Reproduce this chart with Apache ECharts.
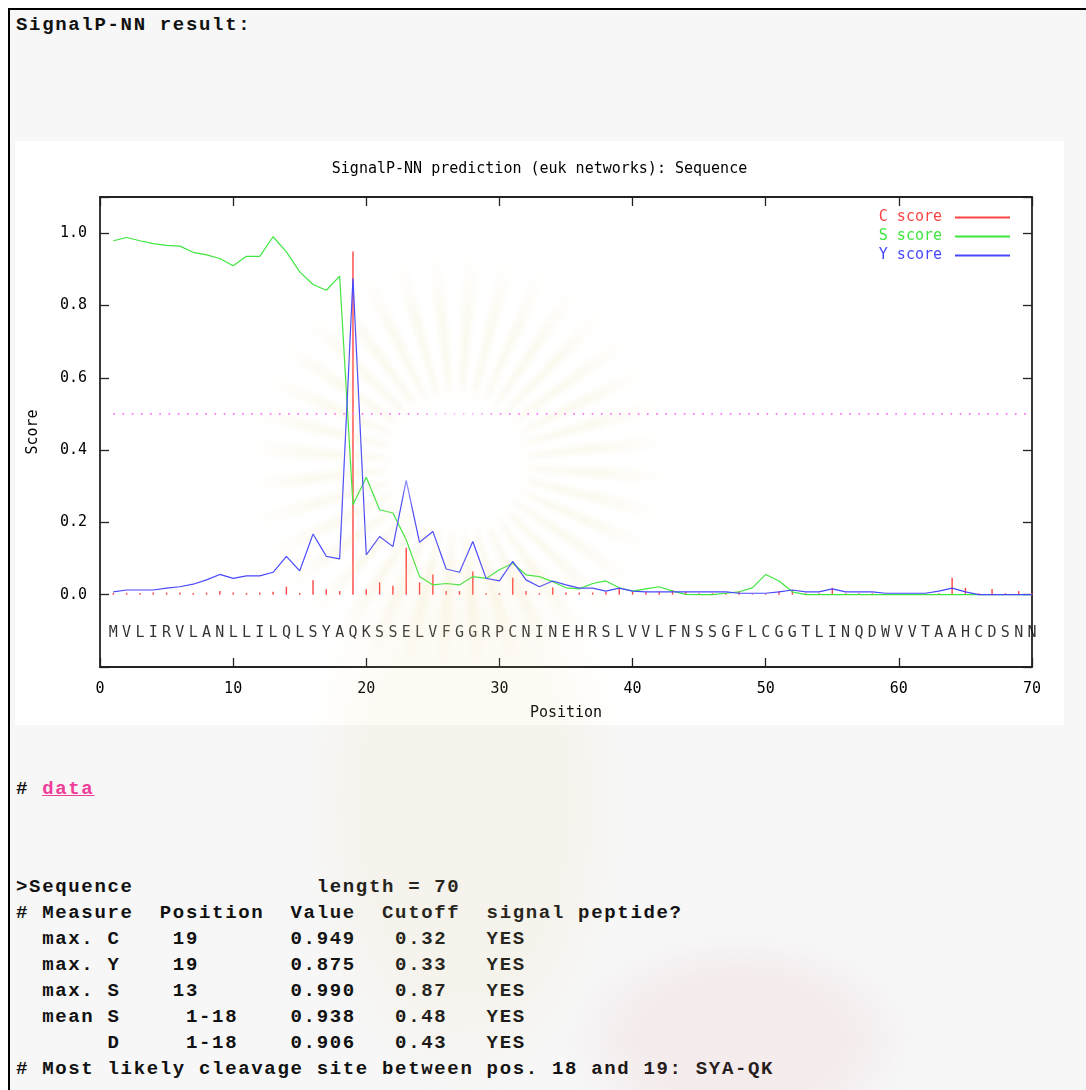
<!DOCTYPE html>
<html>
<head>
<meta charset="utf-8">
<title>SignalP-NN result</title>
<script src="https://cdn.jsdelivr.net/npm/echarts@6/dist/echarts.min.js"></script>
<style>
  html, body { margin: 0; padding: 0; background: #fff; }
  body { width: 1086px; height: 1090px; position: relative; overflow: hidden; }
  .page {
    position: absolute; left: 8px; top: 8px; width: 1080px; height: 1084px;
    border-top: 2px solid #000; border-left: 2px solid #000; background: #f7f7f7;
  }
  .txt {
    position: absolute; left: 16px; margin: 0;
    font-family: "Liberation Mono", monospace; font-weight: bold;
    font-size: 19px; letter-spacing: 1.67px; line-height: 26px;
    color: #111; white-space: pre;
  }
  .txt a { color: #f03c9a; }
  #chart { position: absolute; left: 15px; top: 141px; width: 1049px; height: 584px; background: #fff; }
  /* faint emblem watermark laid over the page */
  .wm { position: absolute; pointer-events: none; }
  .wm.rays {
    left: 247px; top: 253px; width: 420px; height: 420px; border-radius: 50%;
    background: repeating-conic-gradient(from 2deg, rgba(236,214,150,0.15) 0deg 4deg, rgba(255,255,255,0) 4deg 10deg);
    -webkit-mask: radial-gradient(circle, transparent 0 62px, #000 80px 140px, transparent 210px);
            mask: radial-gradient(circle, transparent 0 62px, #000 80px 140px, transparent 210px);
    filter: blur(2.5px);
  }
  .wm.disc {
    left: 392px; top: 398px; width: 130px; height: 130px; border-radius: 50%;
    background: radial-gradient(circle, rgba(255,255,255,0.5) 0 55%, rgba(255,255,255,0) 72%);
  }
  .wm.body {
    left: 300px; top: 560px; width: 330px; height: 540px;
    background: radial-gradient(ellipse at 50% 45%, rgba(236,214,150,0.10) 0 45%, rgba(236,214,150,0) 70%);
  }
  .wm.pink {
    left: 560px; top: 930px; width: 360px; height: 200px;
    background: radial-gradient(ellipse at 50% 55%, rgba(225,140,150,0.10) 0 40%, rgba(225,140,150,0) 70%);
  }
</style>
</head>
<body>
<div class="page"></div>
<div class="txt" style="top:12px">SignalP-NN result:</div>
<div id="chart"></div>
<div class="txt" style="top:776px"># <a href="#">data</a></div>
<pre class="txt" style="top:874px">&gt;Sequence              length = 70
# Measure  Position  Value  Cutoff  signal peptide?
  max. C    19       0.949   0.32   YES
  max. Y    19       0.875   0.33   YES
  max. S    13       0.990   0.87   YES
  mean S     1-18    0.938   0.48   YES
       D     1-18    0.906   0.43   YES
# Most likely cleavage site between pos. 18 and 19: SYA-QK</pre>
<div class="wm body"></div>
<div class="wm pink"></div>
<div class="wm rays"></div>
<div class="wm disc"></div>

<script>
// sequence, one residue per position 1..70
const residues = 'MVLIRVLANLLILQLSYAQKSSELVFGGRPCNINEHRSLVVLFNSSGFLCGGTLINQDWVVTAAHCDSNN'.split('');

// scores
const cScore = [0.005, 0.005, 0.005, 0.006, 0.006, 0.006, 0.005, 0.006, 0.010, 0.006,
                0.005, 0.006, 0.008, 0.022, 0.005, 0.040, 0.015, 0.010, 0.949, 0.015,
                0.034, 0.025, 0.130, 0.034, 0.056, 0.010, 0.010, 0.064, 0.004, 0.004,
                0.047, 0.010, 0.004, 0.020, 0.006, 0.006, 0.006, 0.008, 0.019, 0.008,
                0.008, 0.008, 0.013, 0.008, 0.004, 0.004, 0.004, 0.010, 0.002, 0.002,
                0.010, 0.013, 0.004, 0.004, 0.019, 0.004, 0.004, 0.004, 0.002, 0.002,
                0.002, 0.002, 0.004, 0.047, 0.019, 0.004, 0.016, 0.004, 0.010, 0.004];
const sScore = [0.979, 0.988, 0.979, 0.971, 0.966, 0.964, 0.947, 0.940, 0.930, 0.910,
                0.936, 0.936, 0.990, 0.948, 0.893, 0.858, 0.842, 0.881, 0.249, 0.325,
                0.235, 0.226, 0.152, 0.050, 0.027, 0.031, 0.027, 0.050, 0.045, 0.069,
                0.087, 0.055, 0.050, 0.036, 0.019, 0.016, 0.031, 0.038, 0.019, 0.010,
                0.016, 0.022, 0.010, 0.001, 0.000, 0.000, 0.004, 0.008, 0.019, 0.056,
                0.038, 0.008, 0.000, 0.000, 0.000, 0.000, 0.000, 0.000, 0.000, 0.000,
                0.000, 0.000, 0.000, 0.000, 0.000, 0.000, 0.000, 0.000, 0.000, 0.000];
const yScore = [0.008, 0.013, 0.013, 0.013, 0.018, 0.022, 0.029, 0.041, 0.056, 0.045,
                0.052, 0.052, 0.062, 0.106, 0.066, 0.168, 0.106, 0.099, 0.875, 0.110,
                0.161, 0.133, 0.316, 0.145, 0.175, 0.071, 0.062, 0.147, 0.045, 0.038,
                0.092, 0.041, 0.022, 0.038, 0.027, 0.018, 0.018, 0.010, 0.018, 0.010,
                0.008, 0.008, 0.008, 0.008, 0.008, 0.008, 0.008, 0.004, 0.004, 0.004,
                0.008, 0.013, 0.008, 0.008, 0.016, 0.008, 0.008, 0.008, 0.004, 0.004,
                0.004, 0.004, 0.010, 0.018, 0.008, 0.000, 0.000, 0.000, 0.000, 0.000];
const cutoff = 0.5;
const seriesNames = ['C score', 'S score', 'Y score'];
const seriesColors = ['#ff4444', '#3fe63f', '#4848ff'];

const MONO = '"DejaVu Sans Mono", monospace';
const LETTER_LEVEL = -0.107;   // where the residue letters sit

const pts = arr => arr.map((v, i) => [i + 1, v]);

const frameLine = { show: true, onZero: false, lineStyle: { color: '#222', width: 1.8 } };
const inTick = { show: true, inside: true, length: 9, lineStyle: { color: '#222', width: 1.3 } };

const chart = echarts.init(document.getElementById('chart'));
chart.setOption({
  animation: false,
  backgroundColor: '#fff',
  color: seriesColors,
  textStyle: { fontFamily: MONO, color: '#000' },
  title: {
    text: 'SignalP-NN prediction (euk networks): Sequence',
    left: 'center',
    top: 21,
    padding: [0, 0, 0, 53],
    textStyle: { fontFamily: MONO, fontSize: 15, fontWeight: 'normal', color: '#000' }
  },
  legend: {
    orient: 'vertical',
    right: 49,
    top: 64,
    align: 'right',
    icon: 'rect',
    itemWidth: 55,
    itemHeight: 2,
    itemGap: 4,
    selectedMode: false,
    textStyle: { fontFamily: MONO, fontSize: 15, padding: [0, 8, 0, 0] },
    data: seriesNames.map((n, i) => ({ name: n, textStyle: { color: seriesColors[i] } }))
  },
  grid: { left: 85, right: 32, top: 56, bottom: 58, outerBoundsMode: 'none' },
  xAxis: [{
    type: 'value', min: 0, max: 70, interval: 10, position: 'bottom',
    name: 'Position', nameLocation: 'middle', nameGap: 39,
    nameTextStyle: { fontFamily: MONO, fontSize: 15, color: '#000' },
    axisLine: frameLine, axisTick: inTick, splitLine: { show: false },
    axisLabel: { fontFamily: MONO, fontSize: 15, color: '#000', margin: 15 }
  }, {
    type: 'value', min: 0, max: 70, interval: 10, position: 'top',
    axisLine: frameLine, axisTick: inTick, splitLine: { show: false },
    axisLabel: { show: false }
  }],
  yAxis: [{
    type: 'value', min: -0.2, max: 1.1, interval: 0.2, position: 'left',
    name: 'Score', nameLocation: 'middle', nameGap: 59, nameRotate: 90,
    nameTextStyle: { fontFamily: MONO, fontSize: 15, color: '#000' },
    axisLine: frameLine, axisTick: inTick, splitLine: { show: false },
    axisLabel: {
      fontFamily: MONO, fontSize: 15, color: '#000', margin: 13,
      formatter: v => (v < -0.01 || v > 1.01) ? '' : (Math.round(v * 10) / 10).toFixed(1)
    }
  }, {
    type: 'value', min: -0.2, max: 1.1, interval: 0.2, position: 'right',
    axisLine: frameLine, axisTick: inTick, splitLine: { show: false },
    axisLabel: { show: false }
  }],
  series: [{
    name: seriesNames[0], type: 'bar', barWidth: 1.4,
    data: pts(cScore),
    itemStyle: { color: seriesColors[0] }
  }, {
    name: seriesNames[1], type: 'line', symbol: 'none',
    data: pts(sScore),
    lineStyle: { width: 1.2, color: seriesColors[1] },
    itemStyle: { color: seriesColors[1] }
  }, {
    name: seriesNames[2], type: 'line', symbol: 'none',
    data: pts(yScore),
    lineStyle: { width: 1.2, color: seriesColors[2] },
    itemStyle: { color: seriesColors[2] }
  }, {
    name: 'cutoff', type: 'line', symbol: 'none', silent: true,
    data: [[1, cutoff], [residues.length, cutoff]],
    lineStyle: { width: 1.6, color: '#ff6cff', type: [1.6, 7.6] }
  }, {
    name: 'sequence', type: 'scatter', symbolSize: 1, silent: true,
    itemStyle: { color: 'rgba(0,0,0,0)' },
    data: residues.map((r, i) => [i + 1, LETTER_LEVEL]),
    label: {
      show: true, position: 'inside',
      formatter: p => residues[p.dataIndex],
      fontFamily: MONO, fontSize: 15, color: '#000'
    }
  }]
});
</script>
</body>
</html>
